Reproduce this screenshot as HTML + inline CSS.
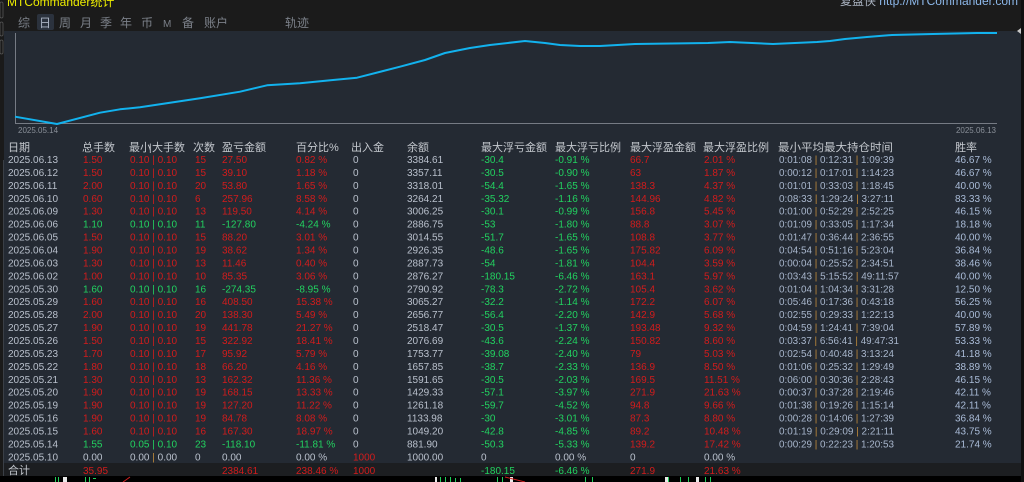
<!DOCTYPE html>
<html><head><meta charset="utf-8">
<style>
html,body{margin:0;padding:0;background:#111;}
svg{display:block;}
text{font-family:"Liberation Sans","Noto Sans CJK SC",sans-serif;}
.cj{font-family:"Liberation Sans","Noto Sans CJK SC",sans-serif;}
.d{font-size:10px;}
.w{fill:#b9c0cc;}
.r{fill:#d21c1c;}
.g{fill:#22d260;}
.t{fill:#a8b6cc;}
.wr{fill:#aabcd8;}
.p{fill:#c08a3a;}
.h{fill:#c4c8ce;font-size:11px;}
</style></head>
<body>
<svg width="1024" height="482" viewBox="0 0 1024 482" xmlns="http://www.w3.org/2000/svg">
<!-- backgrounds -->
<rect x="0" y="0" width="1024" height="482" fill="#151515"/>
<rect x="4" y="0" width="1017" height="31" fill="#1b1b1b"/>
<rect x="4" y="31" width="1017" height="445" fill="#242a33"/>
<rect x="4" y="463" width="1017" height="13" fill="#1c1e21"/>
<rect x="0" y="476" width="1024" height="6" fill="#000"/>
<rect x="0" y="0" width="4" height="476" fill="#1a1a1a"/>
<line x1="3.5" y1="160" x2="3.5" y2="476" stroke="#3a3f46" stroke-width="1"/>
<rect x="0" y="2" width="3" height="16" rx="1.5" fill="none" stroke="#555" stroke-width="0.8"/>
<rect x="0" y="22" width="3" height="14" rx="1.5" fill="none" stroke="#555" stroke-width="0.8"/>
<rect x="0" y="40" width="3" height="14" rx="1.5" fill="none" stroke="#555" stroke-width="0.8"/>
<rect x="1021" y="0" width="3" height="482" fill="#101010"/>
<polygon points="1021,28 1017,31 1021,34" fill="#c8c8c8"/>

<!-- bottom ticker remnants -->
<g fill="#1fd05a">
<rect x="55" y="477" width="1" height="5"/><rect x="58" y="477" width="1" height="5"/>
<rect x="85" y="477" width="1" height="5"/><rect x="89" y="477" width="1" height="5"/><rect x="93" y="478" width="3" height="1"/>
<rect x="440" y="477" width="1" height="5"/><rect x="445" y="477" width="1" height="5"/><rect x="450" y="477" width="1" height="5"/><rect x="455" y="478" width="1" height="4"/><rect x="460" y="478" width="1" height="4"/>
<rect x="497" y="477" width="1" height="5"/><rect x="502" y="477" width="1" height="5"/>
<rect x="585" y="477" width="1" height="5"/><rect x="592" y="477" width="1" height="5"/>
<rect x="668" y="477" width="1" height="5"/><rect x="680" y="477" width="1" height="5"/><rect x="688" y="477" width="1" height="5"/><rect x="705" y="477" width="1" height="5"/><rect x="710" y="477" width="1" height="5"/>
</g>
<g fill="#e8e8e8">
<rect x="63" y="477" width="4" height="5"/><rect x="435" y="477" width="2" height="5"/><rect x="510" y="477" width="3" height="5"/><rect x="665" y="477" width="3" height="5"/><rect x="696" y="477" width="3" height="5"/>
</g>
<line x1="123" y1="482" x2="130" y2="477" stroke="#d02020" stroke-width="1"/>
<line x1="505" y1="477" x2="525" y2="482" stroke="#d02020" stroke-width="1"/>

<!-- title bar -->
<text x="7" y="6" font-size="12" fill="#ecec00">MTCommander统计</text>
<text x="1018" y="5" font-size="12" text-anchor="end"><tspan fill="#a9b2c0">复盘侠 </tspan><tspan fill="#8db8ea">http://MTCommander.com</tspan></text>

<!-- tabs -->
<rect x="37" y="14" width="17" height="16" rx="2" fill="#2b323d"/>
<g font-size="12" fill="#7b8089">
<text x="18" y="27">综</text>
<text x="39" y="27" fill="#aab3c2">日</text>
<text x="59" y="27">周</text>
<text x="80" y="27">月</text>
<text x="100" y="27">季</text>
<text x="120" y="27">年</text>
<text x="141" y="27">币</text>
<text x="163" y="27" font-size="10">M</text>
<text x="182" y="27">备</text>
<text x="204" y="27">账户</text>
<text x="285" y="27">轨迹</text>
</g>

<!-- chart -->
<line x1="15.5" y1="33" x2="15.5" y2="123.5" stroke="#767b84" stroke-width="1"/>
<line x1="15" y1="123.5" x2="997" y2="123.5" stroke="#767b84" stroke-width="1"/>
<polyline fill="none" stroke="#12b2ee" stroke-width="2" stroke-linejoin="round"
points="15,116.7 57,124 100,112.7 120,109.3 140,107.3 200,98.3 240,91.7 267,85.3 300,83.3 333,80 357,77.7 400,66.7 425,60 445,53 470,48 490,45 525,41 545,43 560,45 580,46 600,46 635,44 708,43 730,42 752,43 773,44 795,43 817,42 830,41 845,39 867,37 892,35 933,34 977,33 997,33"/>
<text x="18" y="133" font-size="8" fill="#8a9099">2025.05.14</text>
<text x="996" y="133" font-size="8" fill="#8a9099" text-anchor="end">2025.06.13</text>

<!-- header -->
<g class="h">
<text x="8" y="151">日期</text>
<text x="82" y="151">总手数</text>
<text x="129" y="151">最小</text><text x="149" y="151" font-size="10">|</text><text x="152" y="151">大手数</text>
<text x="193" y="151">次数</text>
<text x="222" y="151">盈亏金额</text>
<text x="296" y="151">百分比%</text>
<text x="351" y="151">出入金</text>
<text x="407" y="151">余额</text>
<text x="481" y="151">最大浮亏金额</text>
<text x="555" y="151">最大浮亏比例</text>
<text x="630" y="151">最大浮盈金额</text>
<text x="703" y="151">最大浮盈比例</text>
<text x="778" y="151" textLength="115" lengthAdjust="spacingAndGlyphs">最小平均最大持仓时间</text>
<text x="955" y="151">胜率</text>
</g>

<!-- rows -->
<g class="d">
<text y="163"><tspan x="8" class="w">2025.06.13</tspan><tspan x="83" class="r">1.50</tspan><tspan x="130" class="r">0.10 | 0.10</tspan><tspan x="195" class="r">15</tspan><tspan x="222" class="r">27.50</tspan><tspan x="296" class="r">0.82 %</tspan><tspan x="353" class="w">0</tspan><tspan x="407" class="w">3384.61</tspan><tspan x="481" class="g">-30.4</tspan><tspan x="555" class="g">-0.91 %</tspan><tspan x="630" class="r">66.7</tspan><tspan x="704" class="r">2.01 %</tspan><tspan x="955" class="wr">46.67 %</tspan></text>
<text y="175.9"><tspan x="8" class="w">2025.06.12</tspan><tspan x="83" class="r">1.50</tspan><tspan x="130" class="r">0.10 | 0.10</tspan><tspan x="195" class="r">15</tspan><tspan x="222" class="r">39.10</tspan><tspan x="296" class="r">1.18 %</tspan><tspan x="353" class="w">0</tspan><tspan x="407" class="w">3357.11</tspan><tspan x="481" class="g">-30.5</tspan><tspan x="555" class="g">-0.90 %</tspan><tspan x="630" class="r">63</tspan><tspan x="704" class="r">1.87 %</tspan><tspan x="955" class="wr">46.67 %</tspan></text>
<text y="188.9"><tspan x="8" class="w">2025.06.11</tspan><tspan x="83" class="r">2.00</tspan><tspan x="130" class="r">0.10 | 0.10</tspan><tspan x="195" class="r">20</tspan><tspan x="222" class="r">53.80</tspan><tspan x="296" class="r">1.65 %</tspan><tspan x="353" class="w">0</tspan><tspan x="407" class="w">3318.01</tspan><tspan x="481" class="g">-54.4</tspan><tspan x="555" class="g">-1.65 %</tspan><tspan x="630" class="r">138.3</tspan><tspan x="704" class="r">4.37 %</tspan><tspan x="955" class="wr">40.00 %</tspan></text>
<text y="201.8"><tspan x="8" class="w">2025.06.10</tspan><tspan x="83" class="r">0.60</tspan><tspan x="130" class="r">0.10 | 0.10</tspan><tspan x="195" class="r">6</tspan><tspan x="222" class="r">257.96</tspan><tspan x="296" class="r">8.58 %</tspan><tspan x="353" class="w">0</tspan><tspan x="407" class="w">3264.21</tspan><tspan x="481" class="g">-35.32</tspan><tspan x="555" class="g">-1.16 %</tspan><tspan x="630" class="r">144.96</tspan><tspan x="704" class="r">4.82 %</tspan><tspan x="955" class="wr">83.33 %</tspan></text>
<text y="214.7"><tspan x="8" class="w">2025.06.09</tspan><tspan x="83" class="r">1.30</tspan><tspan x="130" class="r">0.10 | 0.10</tspan><tspan x="195" class="r">13</tspan><tspan x="222" class="r">119.50</tspan><tspan x="296" class="r">4.14 %</tspan><tspan x="353" class="w">0</tspan><tspan x="407" class="w">3006.25</tspan><tspan x="481" class="g">-30.1</tspan><tspan x="555" class="g">-0.99 %</tspan><tspan x="630" class="r">156.8</tspan><tspan x="704" class="r">5.45 %</tspan><tspan x="955" class="wr">46.15 %</tspan></text>
<text y="227.7"><tspan x="8" class="w">2025.06.06</tspan><tspan x="83" class="g">1.10</tspan><tspan x="130" class="g">0.10 | 0.10</tspan><tspan x="195" class="g">11</tspan><tspan x="222" class="g">-127.80</tspan><tspan x="296" class="g">-4.24 %</tspan><tspan x="353" class="w">0</tspan><tspan x="407" class="w">2886.75</tspan><tspan x="481" class="g">-53</tspan><tspan x="555" class="g">-1.80 %</tspan><tspan x="630" class="r">88.8</tspan><tspan x="704" class="r">3.07 %</tspan><tspan x="955" class="wr">18.18 %</tspan></text>
<text y="240.6"><tspan x="8" class="w">2025.06.05</tspan><tspan x="83" class="r">1.50</tspan><tspan x="130" class="r">0.10 | 0.10</tspan><tspan x="195" class="r">15</tspan><tspan x="222" class="r">88.20</tspan><tspan x="296" class="r">3.01 %</tspan><tspan x="353" class="w">0</tspan><tspan x="407" class="w">3014.55</tspan><tspan x="481" class="g">-51.7</tspan><tspan x="555" class="g">-1.65 %</tspan><tspan x="630" class="r">108.8</tspan><tspan x="704" class="r">3.77 %</tspan><tspan x="955" class="wr">40.00 %</tspan></text>
<text y="253.5"><tspan x="8" class="w">2025.06.04</tspan><tspan x="83" class="r">1.90</tspan><tspan x="130" class="r">0.10 | 0.10</tspan><tspan x="195" class="r">19</tspan><tspan x="222" class="r">38.62</tspan><tspan x="296" class="r">1.34 %</tspan><tspan x="353" class="w">0</tspan><tspan x="407" class="w">2926.35</tspan><tspan x="481" class="g">-48.6</tspan><tspan x="555" class="g">-1.65 %</tspan><tspan x="630" class="r">175.82</tspan><tspan x="704" class="r">6.09 %</tspan><tspan x="955" class="wr">36.84 %</tspan></text>
<text y="266.4"><tspan x="8" class="w">2025.06.03</tspan><tspan x="83" class="r">1.30</tspan><tspan x="130" class="r">0.10 | 0.10</tspan><tspan x="195" class="r">13</tspan><tspan x="222" class="r">11.46</tspan><tspan x="296" class="r">0.40 %</tspan><tspan x="353" class="w">0</tspan><tspan x="407" class="w">2887.73</tspan><tspan x="481" class="g">-54</tspan><tspan x="555" class="g">-1.81 %</tspan><tspan x="630" class="r">104.4</tspan><tspan x="704" class="r">3.59 %</tspan><tspan x="955" class="wr">38.46 %</tspan></text>
<text y="279.4"><tspan x="8" class="w">2025.06.02</tspan><tspan x="83" class="r">1.00</tspan><tspan x="130" class="r">0.10 | 0.10</tspan><tspan x="195" class="r">10</tspan><tspan x="222" class="r">85.35</tspan><tspan x="296" class="r">3.06 %</tspan><tspan x="353" class="w">0</tspan><tspan x="407" class="w">2876.27</tspan><tspan x="481" class="g">-180.15</tspan><tspan x="555" class="g">-6.46 %</tspan><tspan x="630" class="r">163.1</tspan><tspan x="704" class="r">5.97 %</tspan><tspan x="955" class="wr">40.00 %</tspan></text>
<text y="292.3"><tspan x="8" class="w">2025.05.30</tspan><tspan x="83" class="g">1.60</tspan><tspan x="130" class="g">0.10 | 0.10</tspan><tspan x="195" class="g">16</tspan><tspan x="222" class="g">-274.35</tspan><tspan x="296" class="g">-8.95 %</tspan><tspan x="353" class="w">0</tspan><tspan x="407" class="w">2790.92</tspan><tspan x="481" class="g">-78.3</tspan><tspan x="555" class="g">-2.72 %</tspan><tspan x="630" class="r">105.4</tspan><tspan x="704" class="r">3.62 %</tspan><tspan x="955" class="wr">12.50 %</tspan></text>
<text y="305.2"><tspan x="8" class="w">2025.05.29</tspan><tspan x="83" class="r">1.60</tspan><tspan x="130" class="r">0.10 | 0.10</tspan><tspan x="195" class="r">16</tspan><tspan x="222" class="r">408.50</tspan><tspan x="296" class="r">15.38 %</tspan><tspan x="353" class="w">0</tspan><tspan x="407" class="w">3065.27</tspan><tspan x="481" class="g">-32.2</tspan><tspan x="555" class="g">-1.14 %</tspan><tspan x="630" class="r">172.2</tspan><tspan x="704" class="r">6.07 %</tspan><tspan x="955" class="wr">56.25 %</tspan></text>
<text y="318.2"><tspan x="8" class="w">2025.05.28</tspan><tspan x="83" class="r">2.00</tspan><tspan x="130" class="r">0.10 | 0.10</tspan><tspan x="195" class="r">20</tspan><tspan x="222" class="r">138.30</tspan><tspan x="296" class="r">5.49 %</tspan><tspan x="353" class="w">0</tspan><tspan x="407" class="w">2656.77</tspan><tspan x="481" class="g">-56.4</tspan><tspan x="555" class="g">-2.20 %</tspan><tspan x="630" class="r">142.9</tspan><tspan x="704" class="r">5.68 %</tspan><tspan x="955" class="wr">40.00 %</tspan></text>
<text y="331.1"><tspan x="8" class="w">2025.05.27</tspan><tspan x="83" class="r">1.90</tspan><tspan x="130" class="r">0.10 | 0.10</tspan><tspan x="195" class="r">19</tspan><tspan x="222" class="r">441.78</tspan><tspan x="296" class="r">21.27 %</tspan><tspan x="353" class="w">0</tspan><tspan x="407" class="w">2518.47</tspan><tspan x="481" class="g">-30.5</tspan><tspan x="555" class="g">-1.37 %</tspan><tspan x="630" class="r">193.48</tspan><tspan x="704" class="r">9.32 %</tspan><tspan x="955" class="wr">57.89 %</tspan></text>
<text y="344"><tspan x="8" class="w">2025.05.26</tspan><tspan x="83" class="r">1.50</tspan><tspan x="130" class="r">0.10 | 0.10</tspan><tspan x="195" class="r">15</tspan><tspan x="222" class="r">322.92</tspan><tspan x="296" class="r">18.41 %</tspan><tspan x="353" class="w">0</tspan><tspan x="407" class="w">2076.69</tspan><tspan x="481" class="g">-43.6</tspan><tspan x="555" class="g">-2.24 %</tspan><tspan x="630" class="r">150.82</tspan><tspan x="704" class="r">8.60 %</tspan><tspan x="955" class="wr">53.33 %</tspan></text>
<text y="356.9"><tspan x="8" class="w">2025.05.23</tspan><tspan x="83" class="r">1.70</tspan><tspan x="130" class="r">0.10 | 0.10</tspan><tspan x="195" class="r">17</tspan><tspan x="222" class="r">95.92</tspan><tspan x="296" class="r">5.79 %</tspan><tspan x="353" class="w">0</tspan><tspan x="407" class="w">1753.77</tspan><tspan x="481" class="g">-39.08</tspan><tspan x="555" class="g">-2.40 %</tspan><tspan x="630" class="r">79</tspan><tspan x="704" class="r">5.03 %</tspan><tspan x="955" class="wr">41.18 %</tspan></text>
<text y="369.9"><tspan x="8" class="w">2025.05.22</tspan><tspan x="83" class="r">1.80</tspan><tspan x="130" class="r">0.10 | 0.10</tspan><tspan x="195" class="r">18</tspan><tspan x="222" class="r">66.20</tspan><tspan x="296" class="r">4.16 %</tspan><tspan x="353" class="w">0</tspan><tspan x="407" class="w">1657.85</tspan><tspan x="481" class="g">-38.7</tspan><tspan x="555" class="g">-2.33 %</tspan><tspan x="630" class="r">136.9</tspan><tspan x="704" class="r">8.50 %</tspan><tspan x="955" class="wr">38.89 %</tspan></text>
<text y="382.8"><tspan x="8" class="w">2025.05.21</tspan><tspan x="83" class="r">1.30</tspan><tspan x="130" class="r">0.10 | 0.10</tspan><tspan x="195" class="r">13</tspan><tspan x="222" class="r">162.32</tspan><tspan x="296" class="r">11.36 %</tspan><tspan x="353" class="w">0</tspan><tspan x="407" class="w">1591.65</tspan><tspan x="481" class="g">-30.5</tspan><tspan x="555" class="g">-2.03 %</tspan><tspan x="630" class="r">169.5</tspan><tspan x="704" class="r">11.51 %</tspan><tspan x="955" class="wr">46.15 %</tspan></text>
<text y="395.7"><tspan x="8" class="w">2025.05.20</tspan><tspan x="83" class="r">1.90</tspan><tspan x="130" class="r">0.10 | 0.10</tspan><tspan x="195" class="r">19</tspan><tspan x="222" class="r">168.15</tspan><tspan x="296" class="r">13.33 %</tspan><tspan x="353" class="w">0</tspan><tspan x="407" class="w">1429.33</tspan><tspan x="481" class="g">-57.1</tspan><tspan x="555" class="g">-3.97 %</tspan><tspan x="630" class="r">271.9</tspan><tspan x="704" class="r">21.63 %</tspan><tspan x="955" class="wr">42.11 %</tspan></text>
<text y="408.7"><tspan x="8" class="w">2025.05.19</tspan><tspan x="83" class="r">1.90</tspan><tspan x="130" class="r">0.10 | 0.10</tspan><tspan x="195" class="r">19</tspan><tspan x="222" class="r">127.20</tspan><tspan x="296" class="r">11.22 %</tspan><tspan x="353" class="w">0</tspan><tspan x="407" class="w">1261.18</tspan><tspan x="481" class="g">-59.7</tspan><tspan x="555" class="g">-4.52 %</tspan><tspan x="630" class="r">94.8</tspan><tspan x="704" class="r">9.66 %</tspan><tspan x="955" class="wr">42.11 %</tspan></text>
<text y="421.6"><tspan x="8" class="w">2025.05.16</tspan><tspan x="83" class="r">1.90</tspan><tspan x="130" class="r">0.10 | 0.10</tspan><tspan x="195" class="r">19</tspan><tspan x="222" class="r">84.78</tspan><tspan x="296" class="r">8.08 %</tspan><tspan x="353" class="w">0</tspan><tspan x="407" class="w">1133.98</tspan><tspan x="481" class="g">-30</tspan><tspan x="555" class="g">-3.01 %</tspan><tspan x="630" class="r">87.3</tspan><tspan x="704" class="r">8.80 %</tspan><tspan x="955" class="wr">36.84 %</tspan></text>
<text y="434.5"><tspan x="8" class="w">2025.05.15</tspan><tspan x="83" class="r">1.60</tspan><tspan x="130" class="r">0.10 | 0.10</tspan><tspan x="195" class="r">16</tspan><tspan x="222" class="r">167.30</tspan><tspan x="296" class="r">18.97 %</tspan><tspan x="353" class="w">0</tspan><tspan x="407" class="w">1049.20</tspan><tspan x="481" class="g">-42.8</tspan><tspan x="555" class="g">-4.85 %</tspan><tspan x="630" class="r">89.2</tspan><tspan x="704" class="r">10.48 %</tspan><tspan x="955" class="wr">43.75 %</tspan></text>
<text y="447.4"><tspan x="8" class="w">2025.05.14</tspan><tspan x="83" class="g">1.55</tspan><tspan x="130" class="g">0.05 | 0.10</tspan><tspan x="195" class="g">23</tspan><tspan x="222" class="g">-118.10</tspan><tspan x="296" class="g">-11.81 %</tspan><tspan x="353" class="w">0</tspan><tspan x="407" class="w">881.90</tspan><tspan x="481" class="g">-50.3</tspan><tspan x="555" class="g">-5.33 %</tspan><tspan x="630" class="r">139.2</tspan><tspan x="704" class="r">17.42 %</tspan><tspan x="955" class="wr">21.74 %</tspan></text>
<text y="460.4"><tspan x="8" class="w">2025.05.10</tspan><tspan x="83" class="w">0.00</tspan><tspan x="130" class="w">0.00 </tspan><tspan class="p">|</tspan><tspan class="w"> 0.00</tspan><tspan x="195" class="w">0</tspan><tspan x="222" class="w">0.00</tspan><tspan x="296" class="w">0.00 %</tspan><tspan x="353" class="r">1000</tspan><tspan x="407" class="w">1000.00</tspan><tspan x="481" class="w">0</tspan><tspan x="555" class="w">0.00 %</tspan><tspan x="630" class="w">0</tspan><tspan x="704" class="w">0.00 %</tspan></text>

<!-- time column -->
<g class="t">
<text x="779" y="163" textLength="115" lengthAdjust="spacingAndGlyphs">0:01:08 <tspan class="p">|</tspan> 0:12:31 <tspan class="p">|</tspan> 1:09:39</text>
<text x="779" y="175.9" textLength="115" lengthAdjust="spacingAndGlyphs">0:00:12 <tspan class="p">|</tspan> 0:17:01 <tspan class="p">|</tspan> 1:14:23</text>
<text x="779" y="188.9" textLength="115" lengthAdjust="spacingAndGlyphs">0:01:01 <tspan class="p">|</tspan> 0:33:03 <tspan class="p">|</tspan> 1:18:45</text>
<text x="779" y="201.8" textLength="115" lengthAdjust="spacingAndGlyphs">0:08:33 <tspan class="p">|</tspan> 1:29:24 <tspan class="p">|</tspan> 3:27:11</text>
<text x="779" y="214.7" textLength="115" lengthAdjust="spacingAndGlyphs">0:01:00 <tspan class="p">|</tspan> 0:52:29 <tspan class="p">|</tspan> 2:52:25</text>
<text x="779" y="227.7" textLength="115" lengthAdjust="spacingAndGlyphs">0:01:09 <tspan class="p">|</tspan> 0:33:05 <tspan class="p">|</tspan> 1:17:34</text>
<text x="779" y="240.6" textLength="115" lengthAdjust="spacingAndGlyphs">0:01:47 <tspan class="p">|</tspan> 0:36:44 <tspan class="p">|</tspan> 2:36:55</text>
<text x="779" y="253.5" textLength="115" lengthAdjust="spacingAndGlyphs">0:04:54 <tspan class="p">|</tspan> 0:51:16 <tspan class="p">|</tspan> 5:23:04</text>
<text x="779" y="266.4" textLength="115" lengthAdjust="spacingAndGlyphs">0:00:04 <tspan class="p">|</tspan> 0:25:52 <tspan class="p">|</tspan> 2:34:51</text>
<text x="779" y="279.4" textLength="120" lengthAdjust="spacingAndGlyphs">0:03:43 <tspan class="p">|</tspan> 5:15:52 <tspan class="p">|</tspan> 49:11:57</text>
<text x="779" y="292.3" textLength="115" lengthAdjust="spacingAndGlyphs">0:01:04 <tspan class="p">|</tspan> 1:04:34 <tspan class="p">|</tspan> 3:31:28</text>
<text x="779" y="305.2" textLength="115" lengthAdjust="spacingAndGlyphs">0:05:46 <tspan class="p">|</tspan> 0:17:36 <tspan class="p">|</tspan> 0:43:18</text>
<text x="779" y="318.2" textLength="115" lengthAdjust="spacingAndGlyphs">0:02:55 <tspan class="p">|</tspan> 0:29:33 <tspan class="p">|</tspan> 1:22:13</text>
<text x="779" y="331.1" textLength="115" lengthAdjust="spacingAndGlyphs">0:04:59 <tspan class="p">|</tspan> 1:24:41 <tspan class="p">|</tspan> 7:39:04</text>
<text x="779" y="344" textLength="120" lengthAdjust="spacingAndGlyphs">0:03:37 <tspan class="p">|</tspan> 6:56:41 <tspan class="p">|</tspan> 49:47:31</text>
<text x="779" y="356.9" textLength="115" lengthAdjust="spacingAndGlyphs">0:02:54 <tspan class="p">|</tspan> 0:40:48 <tspan class="p">|</tspan> 3:13:24</text>
<text x="779" y="369.9" textLength="115" lengthAdjust="spacingAndGlyphs">0:01:06 <tspan class="p">|</tspan> 0:25:32 <tspan class="p">|</tspan> 1:29:49</text>
<text x="779" y="382.8" textLength="115" lengthAdjust="spacingAndGlyphs">0:06:00 <tspan class="p">|</tspan> 0:30:36 <tspan class="p">|</tspan> 2:28:43</text>
<text x="779" y="395.7" textLength="115" lengthAdjust="spacingAndGlyphs">0:00:37 <tspan class="p">|</tspan> 0:37:28 <tspan class="p">|</tspan> 2:19:46</text>
<text x="779" y="408.7" textLength="115" lengthAdjust="spacingAndGlyphs">0:01:38 <tspan class="p">|</tspan> 0:19:26 <tspan class="p">|</tspan> 1:15:14</text>
<text x="779" y="421.6" textLength="115" lengthAdjust="spacingAndGlyphs">0:00:28 <tspan class="p">|</tspan> 0:14:06 <tspan class="p">|</tspan> 1:27:39</text>
<text x="779" y="434.5" textLength="115" lengthAdjust="spacingAndGlyphs">0:01:19 <tspan class="p">|</tspan> 0:29:09 <tspan class="p">|</tspan> 2:21:11</text>
<text x="779" y="447.4" textLength="115" lengthAdjust="spacingAndGlyphs">0:00:29 <tspan class="p">|</tspan> 0:22:23 <tspan class="p">|</tspan> 1:20:53</text>
</g>

<!-- total row -->
<text x="8" y="474" font-size="11" fill="#c4c8ce">合计</text>
<text y="474"><tspan x="83" class="r">35.95</tspan><tspan x="222" class="r">2384.61</tspan><tspan x="296" class="r">238.46 %</tspan><tspan x="353" class="r">1000</tspan><tspan x="481" class="g">-180.15</tspan><tspan x="555" class="g">-6.46 %</tspan><tspan x="630" class="r">271.9</tspan><tspan x="704" class="r">21.63 %</tspan></text>
</g>
</svg>
</body></html>
